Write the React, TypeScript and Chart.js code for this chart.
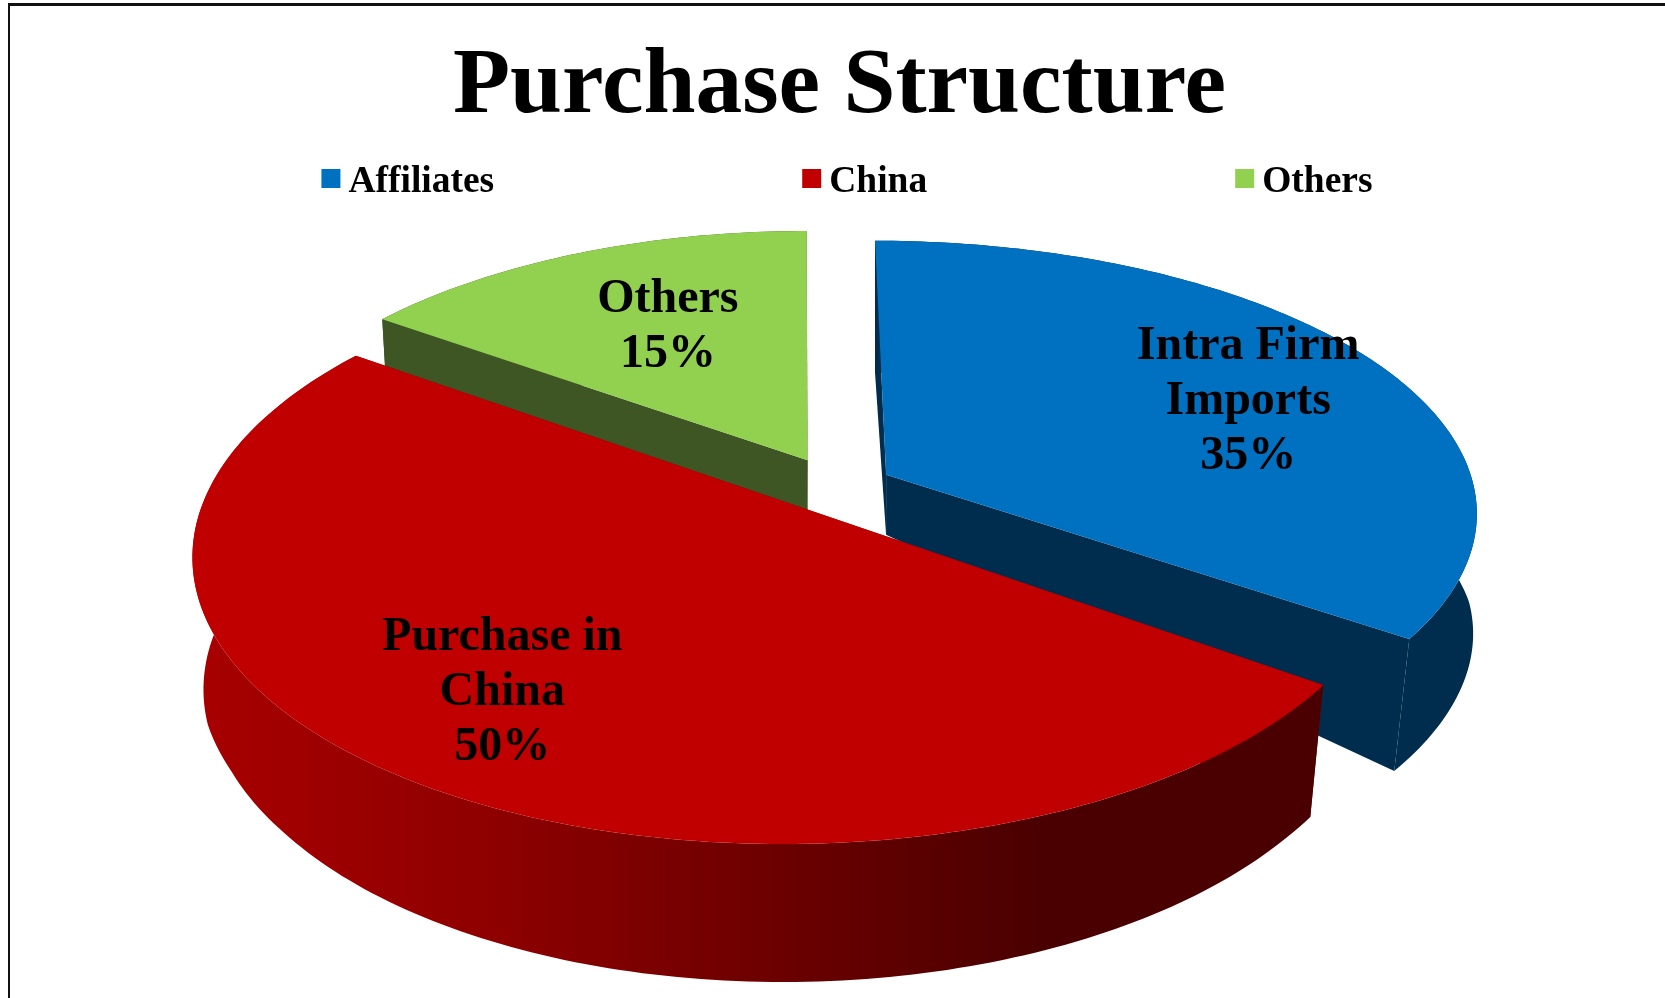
import React, { useEffect, useRef } from "react";
import { Chart, registerables } from "chart.js";

Chart.register(...registerables);

const FONT = "'Liberation Serif', serif";
const legendLabels = ["Affiliates", "China", "Others"];
const sliceLabels = [["Intra Firm", "Imports"], ["Purchase in", "China"], ["Others"]];
const shares = [35, 50, 15];
const topColors = ["#0070C0", "#C00000", "#92D050"];
const wallColors = ["#002C4D", "#8A0000", "#3E5623"];
const redWallStops = ["#A80000", "#900000", "#6E0000", "#4A0000", "#4A0000"];
const paintOrder = [2, 0, 1];

// exploded offset and local scale of each slice, in units of the pie radius on the pie plane
const explodeX = [0.135, 0, 0];
const explodeY = [-0.122, 0, -0.175];
const scaleX = [1.02, 0.995, 0.96];
const scaleY = [0.97, 1, 0.96];
const labelRadius = [0.718, 0.73, 0.597];
const labelTurnDeg = [3.8, 3.3, 1.6];

// perspective camera of the pie's top plane
const cam = { a: 597.2, b: -9.4, c: 806, e: 285.7, f: 509, g: 0.0184, h: -0.147 };
const clamp01 = (v: number) => Math.max(0, Math.min(1, v));
const project = (X: number, Y: number): [number, number] => {
  const w = 1 + cam.g * X + cam.h * Y;
  return [cam.c + (cam.a * X + cam.b * Y) / w, cam.f + (cam.e * Y) / w];
};
const drop = (p: [number, number], rho: number): [number, number] => {
  const lean = p[0] < cam.c ? Math.max(0.018, 0.025 * clamp01((p[1] - 470) / 170)) : 0.025 * clamp01((p[1] - 470) / 170);
  return [p[0] - lean * (p[0] - cam.c), p[1] + 60 + 72 * rho + 6 * clamp01((p[1] - 700) / 144)];
};

const poly = (ctx: CanvasRenderingContext2D, pts: [number, number][], fill: any) => {
  ctx.beginPath();
  pts.forEach((p, i) => (i ? ctx.lineTo(p[0], p[1]) : ctx.moveTo(p[0], p[1])));
  ctx.closePath();
  ctx.fillStyle = fill;
  ctx.fill();
};

const pie3d = {
  id: "pie3d",
  beforeDatasetsDraw(chart: any) {
    const ctx: CanvasRenderingContext2D = chart.ctx;
    const arcs = chart.getDatasetMeta(0).data;
    ctx.save();
    for (const i of paintOrder) {
      const { startAngle, endAngle } = arcs[i];
      const ox = explodeX[i];
      const oy = explodeY[i];
      const top: [number, number][] = [];
      const steps = Math.ceil(((endAngle - startAngle) * 180) / Math.PI);
      for (let s = 0; s <= steps; s++) {
        const t = startAngle + ((endAngle - startAngle) * s) / steps;
        top.push(project(ox + scaleX[i] * Math.cos(t), oy + scaleY[i] * Math.sin(t)));
      }
      const bottom = top.map((p) => drop(p, 1));
      const apex = project(ox, oy);
      const apexLow = drop(apex, 0);
      let wall: any = wallColors[i];
      poly(ctx, [apex, top[0], bottom[0], apexLow], wall);
      poly(ctx, [apex, top[steps], bottom[steps], apexLow], wall);
      if (i === 1) {
        const g = ctx.createLinearGradient(190, 0, 1330, 0);
        redWallStops.forEach((c, k) => g.addColorStop(k / (redWallStops.length - 1), c));
        wall = g;
      }
      poly(ctx, [...top, ...bottom.slice().reverse()], wall);
      poly(ctx, [apex, ...top], topColors[i]);
    }

    ctx.fillStyle = "#000";
    ctx.textAlign = "center";
    ctx.textBaseline = "middle";
    ctx.font = `bold 48px ${FONT}`;
    const total = shares.reduce((a, b) => a + b, 0);
    arcs.forEach((arc: any, i: number) => {
      const mid = (arc.startAngle + arc.endAngle) / 2 + (labelTurnDeg[i] * Math.PI) / 180;
      const [x, y] = project(
        explodeX[i] + labelRadius[i] * Math.cos(mid),
        explodeY[i] + labelRadius[i] * Math.sin(mid)
      );
      const lines = [...sliceLabels[i], `${Math.round((shares[i] / total) * 100)}%`];
      lines.forEach((line, k) => ctx.fillText(line, x, y + 3 + (k - (lines.length - 1) / 2) * 55));
    });

    // legend
    ctx.font = `bold 37.5px ${FONT}`;
    ctx.textAlign = "left";
    ctx.textBaseline = "alphabetic";
    const gap = 308;
    const widths = legendLabels.map((t) => 27 + ctx.measureText(t).width);
    let x = 847 - (widths.reduce((a, b) => a + b, 0) + gap * 2) / 2;
    legendLabels.forEach((t, i) => {
      ctx.fillStyle = topColors[i];
      ctx.fillRect(x, 169, 19, 19);
      ctx.fillStyle = "#000";
      ctx.fillText(t, x + 27, 192);
      x += widths[i] + gap;
    });
    ctx.restore();
    return false;
  },
};

export default function App() {
  const ref = useRef<HTMLCanvasElement>(null);
  useEffect(() => {
    const chart = new Chart(ref.current!, {
      type: "pie",
      data: {
        labels: legendLabels,
        datasets: [{ data: shares, backgroundColor: topColors, borderWidth: 0 }],
      },
      options: {
        animation: false,
        responsive: false,
        rotation: -1,
        layout: { padding: { left: 14 } },
        plugins: {
          legend: { display: false },
          tooltip: { enabled: false },
          title: {
            display: true,
            text: "Purchase Structure",
            color: "#000",
            font: { family: FONT, size: 93.5, weight: "bold" },
            padding: { top: 32, bottom: 10 },
          },
        },
      },
      plugins: [pie3d],
    } as any);
    return () => chart.destroy();
  }, []);
  return (
    <div style={{ position: "absolute", left: 0, top: 0, width: 1665, height: 998, background: "#fff", overflow: "hidden" }}>
      <canvas ref={ref} width={1665} height={998} style={{ position: "absolute", left: 0, top: 0 }} />
      <div style={{ position: "absolute", left: 8, top: 3, right: 0, bottom: 0, borderTop: "3px solid #111", borderLeft: "2px solid #111" }} />
    </div>
  );
}
